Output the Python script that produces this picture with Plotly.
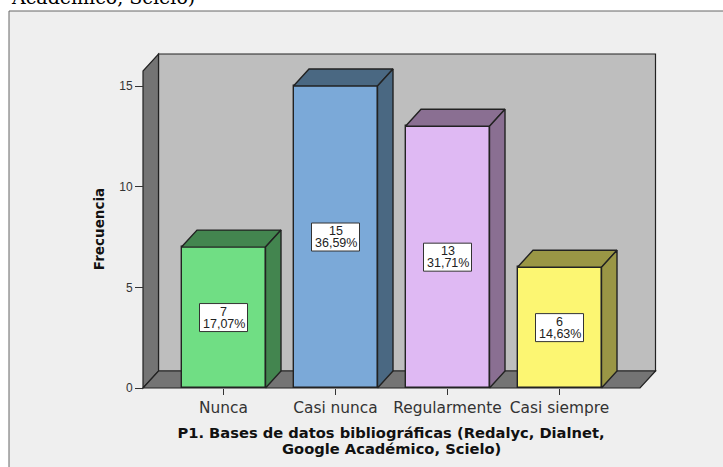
import plotly.graph_objects as go

categories = ["Nunca", "Casi nunca", "Regularmente", "Casi siempre"]
counts = [7, 15, 13, 6]
percents = ["17,07%", "36,59%", "31,71%", "14,63%"]
front_colors = ["#70DE84", "#7BA9D8", "#DFB9F3", "#FCF672"]
shade_colors = ["#43854F", "#4A6882", "#8A6F92", "#9A9645"]
y_ticks = [0, 5, 10, 15]
title_line_1 = "P1. Bases de datos bibliográficas (Redalyc, Dialnet,"
title_line_2 = "Google Académico, Scielo)"

W, H = 723, 467
L, R, T, B = 118, 664, 48, 410
X0_PX, X_UNIT = 223.5, 112.0
Y0_PX, Y_UNIT = 388.0, 20.13
BAR_W = 0.75
DX, DY = 15.5 / X_UNIT, 17 / Y_UNIT
EDGE = "#222222"

x_range = [(L - X0_PX) / X_UNIT, (R - X0_PX) / X_UNIT]
y_range = [(Y0_PX - B) / Y_UNIT, (Y0_PX - T) / Y_UNIT]
x_left = (143 - X0_PX) / X_UNIT
x_right = (640 - X0_PX) / X_UNIT
y_top = 317 / Y_UNIT


def poly(points):
    return "M" + " L".join(f"{a},{b}" for a, b in points) + " Z"


shapes = [
    dict(type="rect", xref="paper", yref="paper", x0=9 / W, x1=1.02, y0=-0.02, y1=(H - 11) / H,
         fillcolor="#EFEFEF", line=dict(color="#666666", width=1), layer="below"),
    dict(type="path", xref="x", yref="y", layer="below", fillcolor="#BEBEBE",
         line=dict(color=EDGE, width=1.2),
         path=poly([(x_left + DX, DY), (x_right + DX, DY), (x_right + DX, y_top + DY), (x_left + DX, y_top + DY)])),
    dict(type="path", xref="x", yref="y", layer="below", fillcolor="#747474",
         line=dict(color=EDGE, width=1.2),
         path=poly([(x_left, 0), (x_left + DX, DY), (x_left + DX, y_top + DY), (x_left, y_top)])),
    dict(type="path", xref="x", yref="y", layer="below", fillcolor="#747474",
         line=dict(color=EDGE, width=1.2),
         path=poly([(x_left, 0), (x_right, 0), (x_right + DX, DY), (x_left + DX, DY)])),
]

traces = [go.Bar(
    x=list(range(len(counts))), y=counts, width=BAR_W,
    marker=dict(color=front_colors, line=dict(color=EDGE, width=1.4)),
    showlegend=False, hoverinfo="skip",
)]

annotations = [
    dict(text="Académico, Scielo)", xref="paper", yref="paper", x=9 / W, y=(H - 10) / H,
         xanchor="left", yanchor="bottom", showarrow=False,
         font=dict(family="DejaVu Serif", size=19, color="#000000")),
    dict(text=title_line_2, xref="paper", yref="paper", x=391 / W, y=(H - 448) / H,
         xanchor="center", yanchor="middle", showarrow=False,
         font=dict(family="DejaVu Sans", size=14.7, color="#111111", weight="bold")),
]

for i, (v, pct, shade) in enumerate(zip(counts, percents, shade_colors)):
    a, b = i - BAR_W / 2, i + BAR_W / 2
    top = [(a, v), (a + DX, v + DY), (b + DX, v + DY), (b, v), (a, v)]
    side = [(b, 0), (b + DX, DY), (b + DX, v + DY), (b, v), (b, 0)]
    for pts in (top, side):
        traces.append(go.Scatter(
            x=[p[0] for p in pts], y=[p[1] for p in pts], mode="lines", fill="toself",
            fillcolor=shade, line=dict(color=EDGE, width=1.4),
            showlegend=False, hoverinfo="skip",
        ))
    shapes.append(dict(
        type="rect", layer="above", xref="x", yref="y", xanchor=i, yanchor=v / 2,
        xsizemode="pixel", ysizemode="pixel", x0=-24, x1=24, y0=-14, y1=14,
        fillcolor="white", line=dict(color="#333333", width=1),
    ))
    annotations.append(dict(x=i, y=v / 2, xref="x", yref="y", text=str(v), showarrow=False,
                            yshift=6, font=dict(family="Liberation Sans", size=12.5, color="#222222")))
    annotations.append(dict(x=i, y=v / 2, xref="x", yref="y", text=pct, showarrow=False,
                            yshift=-6, font=dict(family="Liberation Sans", size=12.5, color="#222222")))

fig = go.Figure(traces)
fig.update_layout(
    width=W, height=H, margin=dict(l=0, r=0, t=0, b=0),
    paper_bgcolor="white", plot_bgcolor="rgba(0,0,0,0)",
    shapes=shapes, annotations=annotations, showlegend=False,
    xaxis=dict(
        domain=[L / W, R / W], range=x_range, anchor="free", position=(H - Y0_PX) / H,
        tickmode="array", tickvals=list(range(len(categories))), ticktext=categories,
        ticks="outside", ticklen=6, tickcolor="#333333", showgrid=False, zeroline=False, showline=False,
        tickfont=dict(family="DejaVu Sans", size=15.4, color="#333333"),
        title=dict(text=title_line_1,
                   font=dict(family="DejaVu Sans", size=14.7, color="#111111", weight="bold"), standoff=11),
    ),
    yaxis=dict(
        domain=[(H - B) / H, (H - T) / H], range=y_range, anchor="free", position=143 / W,
        tickmode="array", tickvals=y_ticks, ticks="outside", ticklen=8, tickcolor="#333333",
        showgrid=False, zeroline=False, showline=False,
        tickfont=dict(family="Liberation Sans", size=12, color="#333333"),
        title=dict(text="Frecuencia", font=dict(family="DejaVu Sans", size=13.5, color="#111111", weight="bold"), standoff=10),
    ),
    bargap=0,
)
fig.write_html("out.html", config=dict(displayModeBar=False),
               post_script="document.body.style.margin='0';document.documentElement.style.overflow='hidden';")
